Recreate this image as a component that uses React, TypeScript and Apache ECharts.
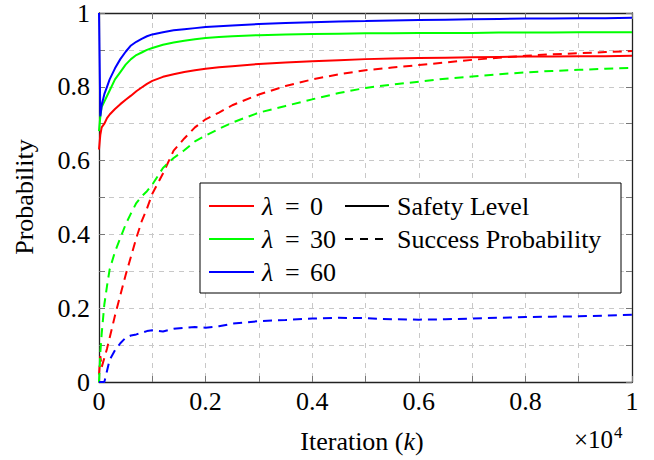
import React, { useEffect, useRef } from "react";
import * as echarts from "echarts";

const iterations = [0, 25, 50, 100, 150, 200, 300, 400, 500, 600, 700, 800, 900, 1000, 1200, 1400, 1600, 1800, 2000, 2250, 2500, 3000, 3500, 4000, 4500, 5000, 5500, 6000, 6500, 7000, 7500, 8000, 8500, 9000, 9500, 10000];

const safetyL0 = [0.63, 0.67, 0.69, 0.70, 0.715, 0.725, 0.74, 0.753, 0.765, 0.776, 0.788, 0.798, 0.808, 0.816, 0.827, 0.834, 0.84, 0.845, 0.849, 0.853, 0.856, 0.862, 0.866, 0.869, 0.872, 0.875, 0.877, 0.878, 0.879, 0.88, 0.881, 0.882, 0.882, 0.883, 0.883, 0.884];
const safetyL30 = [0.68, 0.72, 0.745, 0.76, 0.775, 0.79, 0.82, 0.84, 0.86, 0.875, 0.886, 0.893, 0.9, 0.905, 0.914, 0.92, 0.925, 0.929, 0.932, 0.935, 0.937, 0.94, 0.942, 0.943, 0.944, 0.945, 0.945, 0.946, 0.946, 0.946, 0.947, 0.947, 0.947, 0.948, 0.948, 0.948];
const safetyL60 = [1.0, 0.72, 0.75, 0.78, 0.8, 0.82, 0.85, 0.875, 0.895, 0.912, 0.922, 0.93, 0.937, 0.942, 0.948, 0.953, 0.956, 0.959, 0.962, 0.964, 0.966, 0.97, 0.973, 0.975, 0.977, 0.978, 0.98, 0.981, 0.982, 0.983, 0.984, 0.985, 0.985, 0.986, 0.986, 0.987];
const successL0 = [0.02, 0.07, 0.04, 0.065, 0.09, 0.12, 0.18, 0.235, 0.29, 0.34, 0.39, 0.435, 0.47, 0.51, 0.565, 0.627, 0.66, 0.69, 0.712, 0.73, 0.75, 0.779, 0.802, 0.82, 0.834, 0.845, 0.852, 0.859, 0.866, 0.873, 0.879, 0.884, 0.888, 0.891, 0.894, 0.897];
const successL30 = [0.0, 0.08, 0.13, 0.21, 0.26, 0.305, 0.353, 0.39, 0.427, 0.457, 0.485, 0.503, 0.517, 0.535, 0.58, 0.607, 0.628, 0.652, 0.668, 0.686, 0.703, 0.73, 0.748, 0.766, 0.783, 0.797, 0.806, 0.814, 0.822, 0.828, 0.834, 0.839, 0.843, 0.846, 0.849, 0.851];
const successL60 = [0.0, 0.0, 0.0, 0.0, 0.03, 0.06, 0.086, 0.105, 0.12, 0.126, 0.129, 0.133, 0.138, 0.14, 0.137, 0.144, 0.147, 0.149, 0.147, 0.151, 0.158, 0.165, 0.168, 0.172, 0.174, 0.173, 0.17, 0.169, 0.17, 0.172, 0.174, 0.176, 0.177, 0.178, 0.18, 0.182];

const lambdaLabels = ["0", "30", "60"];
const lambdaColors = ["#ff0000", "#00ff00", "#0000ff"];
const styleLabels = ["Safety Level", "Success Probability"];

const FONT = "Liberation Serif, DejaVu Serif, serif";
const DASH = [9, 6];

function toPairs(vals: number[]) {
  return iterations.map((x, i) => [x, vals[i]]);
}

export default function App() {
  const ref = useRef<HTMLDivElement>(null);
  useEffect(() => {
    if (!ref.current) return;
    const chart = echarts.init(ref.current, undefined, { renderer: "svg" });
    const grid = { left: 99, top: 12, width: 533, height: 370 };
    const gridLine = { show: true, lineStyle: { color: "#c8c8c8", type: [5, 5], width: 1 } };
    const tick = { show: true, inside: true, length: 6, lineStyle: { color: "#777", width: 1 } };
    const frame = { show: true, onZero: false, lineStyle: { color: "#222", width: 1.3 } };

    const fmtX = (v: number) => (v % 2000 === 0 ? String(v / 10000) : "");
    const fmtY = (v: number) => {
      const k = Math.round(v * 10);
      if (k % 2 !== 0) return "";
      if (k === 0) return "0";
      if (k === 10) return "1";
      return (k / 10).toFixed(1);
    };

    const mk = (name: string, vals: number[], color: string, dashed: boolean) => ({
      name,
      type: "line",
      data: toPairs(vals),
      showSymbol: false,
      symbol: "none",
      lineStyle: { color, width: 2, type: dashed ? DASH : "solid" },
      z: 3,
    });

    const rowY = [206, 239, 272];
    const graphic: any[] = [
      {
        type: "rect",
        shape: { x: 200, y: 183, width: 421, height: 110 },
        style: { fill: "#fff", stroke: "#000", lineWidth: 1 },
        z: 100,
      },
    ];
    lambdaLabels.forEach((lab, i) => {
      graphic.push({
        type: "line",
        shape: { x1: 209, y1: rowY[i], x2: 254, y2: rowY[i] },
        style: { stroke: lambdaColors[i], lineWidth: 2 },
        z: 101,
      });
      graphic.push({
        type: "text",
        x: 262,
        y: rowY[i],
        style: { text: "λ", fontFamily: FONT, fontSize: 26, fontStyle: "italic", fill: "#000", verticalAlign: "middle" },
        z: 101,
      });
      graphic.push({
        type: "text",
        x: 285,
        y: rowY[i],
        style: { text: "=", fontFamily: FONT, fontSize: 26, fill: "#000", verticalAlign: "middle" },
        z: 101,
      });
      graphic.push({
        type: "text",
        x: 310,
        y: rowY[i],
        style: { text: lab, fontFamily: FONT, fontSize: 26, fill: "#000", verticalAlign: "middle" },
        z: 101,
      });
    });
    graphic.push({
      type: "line",
      shape: { x1: 345, y1: rowY[0], x2: 389, y2: rowY[0] },
      style: { stroke: "#000", lineWidth: 2 },
      z: 101,
    });
    graphic.push({
      type: "line",
      shape: { x1: 345, y1: rowY[1], x2: 389, y2: rowY[1] },
      style: { stroke: "#000", lineWidth: 2, lineDash: [8, 7] },
      z: 101,
    });
    styleLabels.forEach((lab, i) => {
      graphic.push({
        type: "text",
        x: 397,
        y: rowY[i],
        style: { text: lab, fontFamily: FONT, fontSize: 26, fill: "#000", verticalAlign: "middle" },
        z: 101,
      });
    });
    graphic.push({
      type: "text",
      x: 24,
      y: 197,
      rotation: Math.PI / 2,
      style: { text: "Probability", fontFamily: FONT, fontSize: 26, fill: "#000", align: "center", verticalAlign: "middle" },
    });
    graphic.push({
      type: "text",
      x: 362,
      y: 441,
      style: {
        text: "Iteration ({k|k})",
        fontFamily: FONT,
        fontSize: 26,
        fill: "#000",
        align: "center",
        verticalAlign: "middle",
        rich: { k: { fontFamily: FONT, fontSize: 26, fontStyle: "italic", fill: "#000" } },
      },
    });
    graphic.push({
      type: "text",
      x: 574,
      y: 439,
      style: { text: "×10", fontFamily: FONT, fontSize: 25, fill: "#000", verticalAlign: "middle" },
    });
    graphic.push({
      type: "text",
      x: 614,
      y: 432,
      style: { text: "4", fontFamily: FONT, fontSize: 17, fill: "#000", verticalAlign: "middle" },
    });

    chart.setOption({
      animation: false,
      textStyle: { fontFamily: FONT },
      grid,
      xAxis: [
        {
          type: "value",
          min: 0,
          max: 10000,
          interval: 1000,
          position: "bottom",
          axisLine: frame,
          axisTick: tick,
          splitLine: gridLine,
          axisLabel: { formatter: fmtX, color: "#000", fontSize: 26, fontFamily: FONT, margin: 6 },
        },
        {
          type: "value",
          min: 0,
          max: 10000,
          interval: 1000,
          position: "top",
          axisLine: frame,
          axisTick: tick,
          splitLine: { show: false },
          axisLabel: { show: false },
        },
      ],
      yAxis: [
        {
          type: "value",
          min: 0,
          max: 1,
          interval: 0.1,
          position: "left",
          axisLine: frame,
          axisTick: tick,
          splitLine: gridLine,
          axisLabel: { formatter: fmtY, color: "#000", fontSize: 26, fontFamily: FONT, margin: 9 },
        },
        {
          type: "value",
          min: 0,
          max: 1,
          interval: 0.1,
          position: "right",
          axisLine: frame,
          axisTick: tick,
          splitLine: { show: false },
          axisLabel: { show: false },
        },
      ],
      series: [
        mk("λ = 0 Safety Level", safetyL0, lambdaColors[0], false),
        mk("λ = 30 Safety Level", safetyL30, lambdaColors[1], false),
        mk("λ = 60 Safety Level", safetyL60, lambdaColors[2], false),
        mk("λ = 0 Success Probability", successL0, lambdaColors[0], true),
        mk("λ = 30 Success Probability", successL30, lambdaColors[1], true),
        mk("λ = 60 Success Probability", successL60, lambdaColors[2], true),
      ],
      graphic,
    });
    return () => chart.dispose();
  }, []);
  return <div ref={ref} style={{ position: "absolute", left: 0, top: 0, width: 654, height: 460 }} />;
}
